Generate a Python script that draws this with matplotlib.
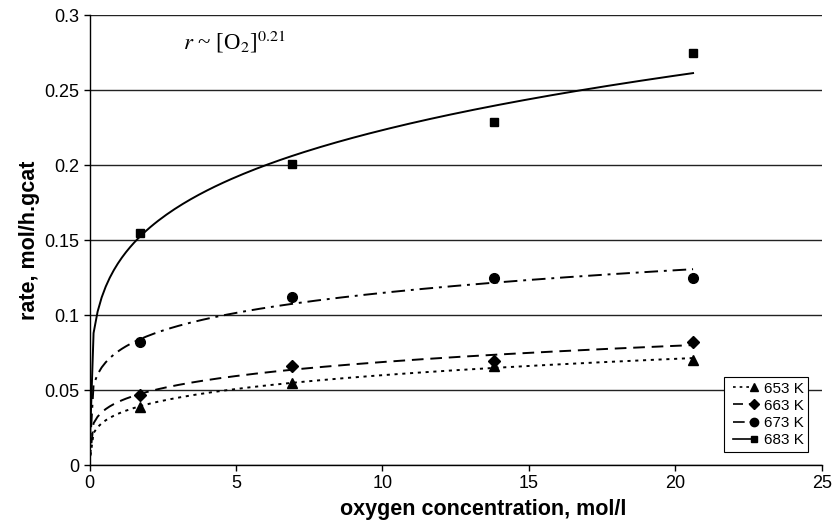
import matplotlib.pyplot as plt
import numpy as np
from matplotlib.lines import Line2D
from matplotlib.legend_handler import HandlerLine2D
from matplotlib.ticker import FuncFormatter

plt.rcParams['font.family'] = ['Liberation Sans', 'DejaVu Sans']
plt.rcParams['mathtext.fontset'] = 'stix'

# oxygen concentration, mol/l
conc = [1.72, 6.9, 13.8, 20.6]
# rate, mol/h.gcat
rate_653 = [0.039, 0.055, 0.066, 0.070]
rate_663 = [0.047, 0.066, 0.0695, 0.082]
rate_673 = [0.082, 0.112, 0.1245, 0.125]
rate_683 = [0.155, 0.201, 0.229, 0.275]

labels = ['653 K', '663 K', '673 K', '683 K']
rates = [rate_653, rate_663, rate_673, rate_683]
markers = ['^', 'D', 'o', 's']
msizes = [7, 6, 7, 5.5]
styles = [(0, (1.6, 2.4)), (0, (6, 3.5)), (0, (7, 3, 1.5, 3)), '-']


class MarkerAtEnd(HandlerLine2D):
    # legend sample: line with the marker only at its right end
    def create_artists(self, *args, **kwargs):
        arts = super().create_artists(*args, **kwargs)
        for a in arts:
            a.set_markevery([1])
        return arts


fig = plt.figure(figsize=(8.35, 5.27), dpi=100)
ax = fig.add_axes([0.1072, 0.1176, 0.8772, 0.8539])

handles = []
for r, lab, m, ms, ls in zip(rates, labels, markers, msizes, styles):
    x = np.array(conc)
    y = np.array(r)
    # power-law trendline (least squares in log-log, like a spreadsheet)
    b, lna = np.polyfit(np.log(x), np.log(y), 1)
    xs = np.linspace(0, x[-1], 150)
    xs[0] = 1e-6
    ax.plot(xs, np.exp(lna) * xs ** b, color='k', ls=ls, lw=1.4)
    ax.plot(x, y, ls='none', marker=m, ms=ms, color='k')
    handles.append(Line2D([], [], color='k', ls=ls, lw=1.2, marker=m, ms=ms - 1))

ax.set_xlim(0, 25)
ax.set_ylim(0, 0.3)
ax.set_xticks([0, 5, 10, 15, 20, 25])
ax.set_yticks([0, 0.05, 0.1, 0.15, 0.2, 0.25, 0.3])
ax.yaxis.set_major_formatter(FuncFormatter(lambda v, p: '%g' % v))
ax.tick_params(labelsize=13, length=4, width=1, direction='out')
ax.yaxis.grid(True, color='#222222', lw=1)
ax.set_axisbelow(True)
for s in ['top', 'right']:
    ax.spines[s].set_visible(False)
for s in ['left', 'bottom']:
    ax.spines[s].set_linewidth(1)

ax.set_xlabel('oxygen concentration, mol/l', fontsize=15.5, fontweight='bold')
ax.xaxis.set_label_coords(0.537, -0.076)
ax.set_ylabel('rate, mol/h.gcat', fontsize=15.5, fontweight='bold', labelpad=3)

ax.text(3.2, 0.277, r'$r$ ~ [O$_2$]$^{0.21}$', fontsize=16.5,
        family=['Liberation Serif', 'DejaVu Serif'])

leg = ax.legend(handles, labels, loc='lower right', bbox_to_anchor=(0.981, 0.03),
                borderaxespad=0, fontsize=11, numpoints=2, handlelength=2.0,
                handletextpad=0.3, labelspacing=0.2, borderpad=0.3,
                fancybox=False, framealpha=1, edgecolor='k',
                handler_map={Line2D: MarkerAtEnd()})
leg.get_frame().set_linewidth(0.8)

fig.savefig('out.png', dpi=100)
